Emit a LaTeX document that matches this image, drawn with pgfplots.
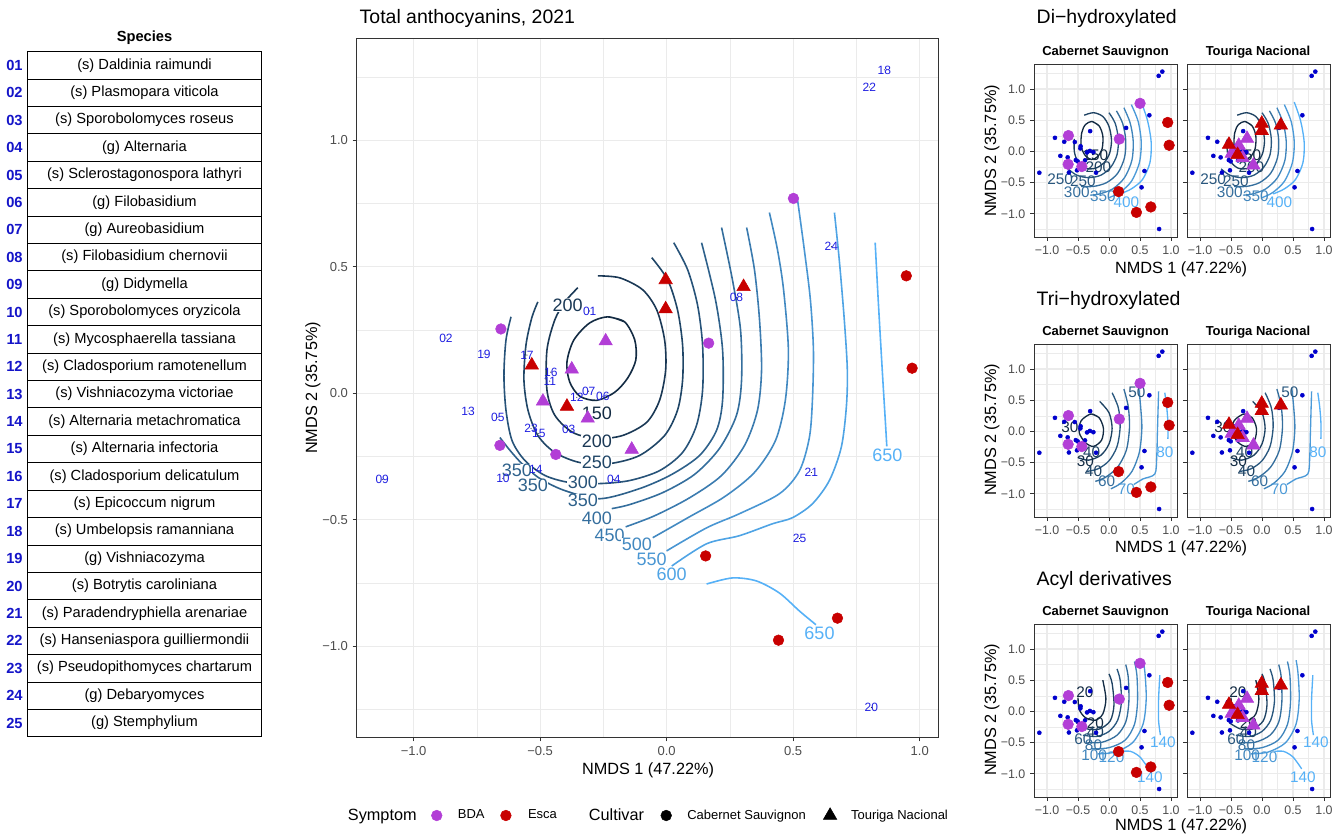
\documentclass[border=0pt]{standalone}
\usepackage{pgfplots}
\usepackage{pgfplotstable}
\pgfplotsset{compat=1.18}
\usepackage{fontspec}
\setmainfont{Liberation Sans}

\definecolor{gray20}{RGB}{51,51,51}
\definecolor{gray30}{RGB}{77,77,77}
\definecolor{gray92}{RGB}{235,235,235}
\definecolor{bda}{RGB}{178,62,214}
\definecolor{esca}{RGB}{200,0,0}
\definecolor{spc}{RGB}{30,30,225}
\definecolor{dotc}{RGB}{0,0,205}
\definecolor{numc}{RGB}{20,20,200}
\definecolor{lo}{RGB}{19,43,67}
\definecolor{hi}{RGB}{86,177,247}
\colorlet{m150}{lo}
\colorlet{m200}{hi!10!lo}
\colorlet{m250}{hi!20!lo}
\colorlet{m300}{hi!30!lo}
\colorlet{m350}{hi!40!lo}
\colorlet{m400}{hi!50!lo}
\colorlet{m450}{hi!60!lo}
\colorlet{m500}{hi!70!lo}
\colorlet{m550}{hi!80!lo}
\colorlet{m600}{hi!90!lo}
\colorlet{m650}{hi}
\colorlet{s1}{lo}
\colorlet{s2}{hi!17!lo}
\colorlet{s3}{hi!33!lo}
\colorlet{s4}{hi!50!lo}
\colorlet{s5}{hi!67!lo}
\colorlet{s6}{hi!83!lo}
\colorlet{s7}{hi}

\tikzset{
  lbl/.style={font=\fontsize{13.5}{15}\selectfont, inner sep=0.3pt, fill=white},
  slbl/.style={font=\fontsize{11.5}{13}\selectfont, inner sep=0pt},
}

\pgfplotsset{
  gg/.style={
    scale only axis, anchor=south west,
    tick pos=left, tick align=outside,
    major tick length=3pt, minor tick length=0pt,
    tick style={gray20, line width=0.7pt},
    axis line style={gray20, line width=0.7pt},
    grid=both,
    major grid style={gray92, line width=0.9pt},
    minor grid style={gray92, line width=0.45pt},
    xtick={-1,-0.5,0,0.5,1}, ytick={-1,-0.5,0,0.5,1},
    minor xtick={-0.75,-0.25,0.25,0.75},
    minor ytick={-1.25,-0.75,-0.25,0.25,0.75,1.25},
    xticklabels={−1.0,−0.5,0.0,0.5,1.0},
    yticklabels={−1.0,−0.5,0.0,0.5,1.0},
    tick label style={font=\fontsize{9.75}{11}\selectfont, text=gray30},
  },
  sm/.style={gg, width=107.25pt, height=129.75pt,
    xmin=-1.21, xmax=1.097, ymin=-1.37, ymax=1.40,
    tick label style={font=\fontsize{9.3}{11}\selectfont, text=gray30}},
  smR/.style={sm, yticklabels={}},
  ctr/.style={smooth, mark=none, line width=1.2pt, forget plot},
  sctr/.style={smooth, mark=none, line width=1pt, forget plot},
  circ/.style={only marks, mark=*, mark size=4pt, forget plot},
  tri/.style={only marks, mark=triangle*, mark size=5.8pt, forget plot},
  sdot/.style={only marks, mark=*, mark size=1.5pt, color=dotc, forget plot},
}

\pgfplotstableread{
x y lab
-0.304 0.325 01
-0.872 0.218 02
-0.387 -0.143 03
-0.209 -0.341 04
-0.667 -0.095 05
-0.252 -0.012 06
-0.308 0.008 07
0.276 0.377 08
-1.124 -0.341 09
-0.647 -0.337 10
-0.462 0.048 11
-0.355 -0.016 12
-0.785 -0.071 13
-0.517 -0.302 14
-0.505 -0.159 15
-0.458 0.083 16
-0.552 0.151 17
0.860 1.278 18
-0.722 0.155 19
0.809 -1.242 20
0.572 -0.313 21
0.801 1.210 22
-0.536 -0.139 23
0.651 0.579 24
0.525 -0.575 25
}\species

\pgfplotstableread{
x y
-0.655 0.254
-0.659 -0.206
-0.438 -0.242
0.166 0.198
0.501 0.770
}\cabBDA
\pgfplotstableread{
x y
0.947 0.464
0.970 0.099
0.154 -0.643
0.442 -0.976
0.675 -0.889
}\cabEsca
\pgfplotstableread{
x y
-0.241 0.206
-0.375 0.095
-0.489 -0.032
-0.312 -0.099
-0.138 -0.222
}\touBDA
\pgfplotstableread{
x y
-0.533 0.111
-0.394 -0.052
-0.004 0.448
-0.004 0.333
0.304 0.421
}\touEsca

\newcommand{\DiContours}{%
\addplot[sctr, color=s1] coordinates {(-0.275,0.48) (-0.16,0.41) (-0.10,0.25) (-0.11,0.05) (-0.18,-0.08) (-0.28,-0.13) (-0.38,-0.07) (-0.45,0.08) (-0.44,0.30) (-0.38,0.43) (-0.275,0.48) (-0.16,0.41)};
\addplot[sctr, color=s2] coordinates {(-0.40,0.58) (-0.25,0.62) (-0.10,0.56) (0.00,0.40) (0.04,0.18) (0.01,-0.03) (-0.08,-0.18) (-0.22,-0.27) (-0.38,-0.27) (-0.50,-0.17) (-0.56,0.00) (-0.56,0.20)};
\addplot[sctr, color=s3] coordinates {(0.00,0.62) (0.10,0.45) (0.15,0.20) (0.13,-0.05) (0.03,-0.25) (-0.13,-0.38) (-0.33,-0.42) (-0.52,-0.38) (-0.66,-0.28)};
\addplot[sctr, color=s4] coordinates {(0.12,0.65) (0.22,0.45) (0.27,0.18) (0.25,-0.10) (0.14,-0.35) (-0.04,-0.50) (-0.25,-0.56) (-0.45,-0.56)};
\addplot[sctr, color=s5] coordinates {(0.24,0.70) (0.34,0.46) (0.39,0.17) (0.37,-0.14) (0.25,-0.42) (0.06,-0.60) (-0.15,-0.68) (-0.30,-0.70)};
\addplot[sctr, color=s6] coordinates {(0.36,0.75) (0.47,0.48) (0.52,0.15) (0.49,-0.18) (0.36,-0.48) (0.17,-0.66) (0.00,-0.74)};
\addplot[sctr, color=s7] coordinates {(0.52,0.79) (0.62,0.50) (0.68,0.15) (0.66,-0.18) (0.54,-0.45) (0.36,-0.60) (0.18,-0.68)};
\node[slbl, text=s1] at (axis cs:-0.22,-0.06) {150};
\node[slbl, text=s2] at (axis cs:-0.17,-0.25) {200};
\node[slbl, text=s3] at (axis cs:-0.79,-0.45) {250};
\node[slbl, text=s3] at (axis cs:-0.42,-0.48) {250};
\node[slbl, text=s4] at (axis cs:-0.52,-0.66) {300};
\node[slbl, text=s5] at (axis cs:-0.10,-0.72) {350};
\node[slbl, text=s7] at (axis cs:0.28,-0.82) {400};
}

\newcommand{\TriContours}{%
\addplot[sctr, color=s1] coordinates {(-0.29,0.28) (-0.16,0.22) (-0.09,0.05) (-0.12,-0.14) (-0.25,-0.24) (-0.38,-0.18) (-0.48,-0.02) (-0.45,0.17) (-0.29,0.28) (-0.16,0.22)};
\addplot[sctr, color=s2] coordinates {(-0.15,0.48) (0.00,0.30) (0.05,0.05) (0.00,-0.20) (-0.13,-0.38) (-0.33,-0.46) (-0.50,-0.42)};
\addplot[sctr, color=s3] coordinates {(0.05,0.62) (0.15,0.38) (0.18,0.08) (0.13,-0.24) (0.00,-0.47) (-0.18,-0.60) (-0.36,-0.64)};
\addplot[sctr, color=s4] coordinates {(0.24,0.68) (0.31,0.40) (0.33,0.06) (0.28,-0.30) (0.14,-0.57) (-0.05,-0.73) (-0.22,-0.80)};
\addplot[sctr, color=s5] coordinates {(0.48,0.70) (0.51,0.40) (0.53,0.05) (0.49,-0.33) (0.37,-0.64) (0.19,-0.83) (0.03,-0.92)};
\addplot[sctr, color=s6] coordinates {(0.80,0.64) (0.79,0.30) (0.78,-0.05) (0.77,-0.40) (0.74,-0.68) (0.55,-0.76) (0.40,-0.85)};
\addplot[sctr, color=s7] coordinates {(0.90,0.62) (0.93,0.40) (0.95,0.15) (0.95,-0.12)};
\node[slbl, text=s1] at (axis cs:-0.63,0.07) {30};
\node[slbl, text=s3] at (axis cs:0.45,0.62) {50};
\node[slbl, text=s2] at (axis cs:-0.28,-0.33) {40};
\node[slbl, text=s1] at (axis cs:-0.38,-0.48) {30};
\node[slbl, text=s2] at (axis cs:-0.25,-0.63) {40};
\node[slbl, text=s4] at (axis cs:-0.04,-0.80) {60};
\node[slbl, text=s6] at (axis cs:0.28,-0.93) {70};
\node[slbl, text=s7] at (axis cs:0.90,-0.33) {80};
}

\newcommand{\AcylContours}{%
\addplot[sctr, color=s1] coordinates {(-0.50,0.22) (-0.48,0.03) (-0.38,-0.10) (-0.22,-0.14) (-0.10,-0.04) (-0.05,0.20) (-0.10,0.50)};
\addplot[sctr, color=s2] coordinates {(-0.53,-0.18) (-0.35,-0.28) (-0.15,-0.28) (0.02,-0.15) (0.08,0.10) (0.05,0.45) (0.00,0.60)};
\addplot[sctr, color=s3] coordinates {(-0.42,-0.38) (-0.20,-0.40) (0.00,-0.32) (0.14,-0.14) (0.20,0.15) (0.18,0.50) (0.13,0.68)};
\addplot[sctr, color=s4] coordinates {(-0.35,-0.50) (-0.10,-0.49) (0.13,-0.38) (0.27,-0.17) (0.32,0.15) (0.31,0.55) (0.27,0.75)};
\addplot[sctr, color=s5] coordinates {(-0.28,-0.60) (0.00,-0.58) (0.26,-0.46) (0.41,-0.21) (0.46,0.15) (0.45,0.58) (0.41,0.80)};
\addplot[sctr, color=s6] coordinates {(-0.18,-0.68) (0.10,-0.65) (0.38,-0.50) (0.55,-0.20) (0.60,0.20) (0.58,0.62) (0.55,0.82)};
\addplot[sctr, color=s7] coordinates {(0.82,0.58) (0.80,0.20) (0.80,-0.15) (0.83,-0.38)};
\addplot[sctr, color=s7] coordinates {(0.20,-0.64) (0.35,-0.64) (0.50,-0.73) (0.64,-0.92)};
\node[slbl, text=s1] at (axis cs:-0.39,0.30) {20};
\node[slbl, text=s1] at (axis cs:-0.22,-0.19) {20};
\node[slbl, text=s2] at (axis cs:-0.22,-0.34) {40};
\node[slbl, text=s3] at (axis cs:-0.42,-0.44) {60};
\node[slbl, text=s4] at (axis cs:-0.25,-0.54) {80};
\node[slbl, text=s5] at (axis cs:-0.24,-0.70) {100};
\node[slbl, text=s6] at (axis cs:0.04,-0.74) {120};
\node[slbl, text=s7] at (axis cs:0.87,-0.49) {140};
\node[slbl, text=s7] at (axis cs:0.66,-1.06) {140};
}

\newcommand{\CabPoints}{%
\addplot[sdot] table[x=x,y=y] {\species};
\addplot[circ, color=bda] table {\cabBDA};
\addplot[circ, color=esca] table {\cabEsca};
}
\newcommand{\TouPoints}{%
\addplot[sdot] table[x=x,y=y] {\species};
\addplot[tri, color=bda] table {\touBDA};
\addplot[tri, color=esca] table {\touEsca};
}

\begin{document}
\begin{tikzpicture}
\useasboundingbox (0pt,0pt) rectangle (1007.25pt,-625.5pt);

\begin{scope}[x=0.75pt,y=-0.75pt]
  \node[font=\bfseries\fontsize{11}{13}\selectfont] at (144.5,38) {Species};
  \foreach \num/\name [count=\k] in {
    01/{(s) Daldinia raimundi},
    02/{(s) Plasmopara viticola},
    03/{(s) Sporobolomyces roseus},
    04/{(g) Alternaria},
    05/{(s) Sclerostagonospora lathyri},
    06/{(g) Filobasidium},
    07/{(g) Aureobasidium},
    08/{(s) Filobasidium chernovii},
    09/{(g) Didymella},
    10/{(s) Sporobolomyces oryzicola},
    11/{(s) Mycosphaerella tassiana},
    12/{(s) Cladosporium ramotenellum},
    13/{(s) Vishniacozyma victoriae},
    14/{(s) Alternaria metachromatica},
    15/{(s) Alternaria infectoria},
    16/{(s) Cladosporium delicatulum},
    17/{(s) Epicoccum nigrum},
    18/{(s) Umbelopsis ramanniana},
    19/{(g) Vishniacozyma},
    20/{(s) Botrytis caroliniana},
    21/{(s) Paradendryphiella arenariae},
    22/{(s) Hanseniaspora guilliermondii},
    23/{(s) Pseudopithomyces chartarum},
    24/{(g) Debaryomyces},
    25/{(g) Stemphylium}} {
    \draw[line width=0.6pt] (27.7,{51.7+(\k-1)*27.4}) rectangle (261,{51.7+\k*27.4});
    \node[font=\fontsize{11}{13}\selectfont] at (144.5,{51.7+(\k-0.5)*27.4}) {\name};
    \node[font=\bfseries\fontsize{11}{13}\selectfont, text=numc] at (14.5,{51.7+(\k-0.5)*27.4}) {\num};
  }
  \node[anchor=west, font=\fontsize{14.6}{17}\selectfont] at (355,18) {Total anthocyanins, 2021};
  \node[anchor=west, font=\fontsize{14.6}{17}\selectfont] at (1032,18) {Di−hydroxylated};
  \node[anchor=west, font=\fontsize{14.6}{17}\selectfont] at (1032,300) {Tri−hydroxylated};
  \node[anchor=west, font=\fontsize{14.6}{17}\selectfont] at (1032,580) {Acyl derivatives};
  \node[font=\fontsize{12.2}{14}\selectfont] at (648,770) {NMDS 1 (47.22\%)};
  \node[font=\fontsize{12.2}{14}\selectfont, rotate=90] at (313,388) {NMDS 2 (35.75\%)};
  \foreach \yy in {52,332,612} {
    \node[font=\bfseries\fontsize{9.75}{11}\selectfont] at (1105.5,\yy) {Cabernet Sauvignon};
    \node[font=\bfseries\fontsize{9.75}{11}\selectfont] at (1258,\yy) {Touriga Nacional};
  }
  \foreach \yy in {269,548,826} {
    \node[font=\fontsize{12.2}{14}\selectfont] at (1181,\yy) {NMDS 1 (47.22\%)};
  }
  \foreach \yy in {151,430,710} {
    \node[font=\fontsize{12.2}{14}\selectfont, rotate=90] at (992,\yy) {NMDS 2 (35.75\%)};
  }
\end{scope}

\begin{axis}[gg, at={(267.5pt,-553pt)}, width=436.7pt, height=524.5pt,
  xmin=-1.225, xmax=1.076, ymin=-1.36, ymax=1.404,
  legend columns=-1, legend cell align=left,
  legend style={at={(-0.015,-0.111)}, anchor=west, draw=none, fill=none,
    inner sep=0pt, outer sep=0pt, column sep=0pt,
    nodes={inner sep=0pt, outer sep=0pt},
    font=\fontsize{9.75}{11}\selectfont}]
\addlegendimage{empty legend}
\addlegendentry{\fontsize{12.2}{14}\selectfont Symptom\hspace*{10.9pt}}
\addlegendimage{legend image code/.code={\fill[bda] (0pt,0pt) circle (4pt);}}
\addlegendentry{\hspace*{11.6pt}BDA\hspace*{11.8pt}}
\addlegendimage{legend image code/.code={\fill[esca] (0pt,0pt) circle (4pt);}}
\addlegendentry{\hspace*{12.4pt}Esca\hspace*{24pt}}
\addlegendimage{empty legend}
\addlegendentry{\fontsize{12.2}{14}\selectfont Cultivar\hspace*{12.4pt}}
\addlegendimage{legend image code/.code={\fill[black] (0pt,0pt) circle (4pt);}}
\addlegendentry{\hspace*{11.6pt}Cabernet Sauvignon\hspace*{13pt}}
\addlegendimage{legend image code/.code={\fill[black] (90:5.8pt) -- (210:5.8pt) -- (330:5.8pt) -- cycle;}}
\addlegendentry{\hspace*{10.5pt}Touriga Nacional}

\addplot[ctr, color=m150] coordinates {(-0.233,0.302) (-0.166,0.282) (-0.126,0.210) (-0.122,0.131) (-0.154,0.060) (-0.205,0.004) (-0.276,-0.028) (-0.343,-0.012) (-0.383,0.044) (-0.394,0.123) (-0.367,0.210) (-0.304,0.278) (-0.233,0.302) (-0.166,0.282)};
\addplot[ctr, color=m200] coordinates {(-0.272,0.464) (-0.185,0.456) (-0.095,0.409) (-0.039,0.329) (-0.008,0.210) (-0.004,0.091) (-0.028,-0.028) (-0.079,-0.115) (-0.174,-0.167) (-0.276,-0.179) (-0.371,-0.155) (-0.442,-0.087) (-0.473,0.012) (-0.473,0.171) (-0.442,0.290) (-0.402,0.361) (-0.351,0.417)};
\addplot[ctr, color=m250] coordinates {(-0.059,0.536) (0.004,0.448) (0.043,0.329) (0.063,0.190) (0.063,0.052) (0.043,-0.067) (-0.008,-0.167) (-0.107,-0.246) (-0.225,-0.278) (-0.343,-0.274) (-0.442,-0.234) (-0.509,-0.167) (-0.548,-0.067) (-0.564,0.052) (-0.556,0.190) (-0.533,0.298) (-0.509,0.361)};
\addplot[ctr, color=m300] coordinates {(0.028,0.595) (0.083,0.488) (0.122,0.349) (0.142,0.190) (0.142,0.012) (0.118,-0.127) (0.063,-0.234) (-0.028,-0.306) (-0.146,-0.345) (-0.264,-0.357) (-0.383,-0.353) (-0.481,-0.325) (-0.560,-0.266) (-0.611,-0.187) (-0.635,-0.067) (-0.643,0.071) (-0.635,0.210) (-0.615,0.302)};
\addplot[ctr, color=m350] coordinates {(-0.659,-0.175) (-0.619,-0.226) (-0.572,-0.278) (-0.501,-0.337) (-0.402,-0.385) (-0.264,-0.417) (-0.107,-0.377) (0.020,-0.321) (0.130,-0.246) (0.197,-0.147) (0.221,-0.028) (0.221,0.171) (0.193,0.369) (0.138,0.595)};
\addplot[ctr, color=m400] coordinates {(-0.217,-0.456) (-0.146,-0.440) (-0.016,-0.393) (0.110,-0.321) (0.209,-0.218) (0.276,-0.087) (0.296,0.052) (0.292,0.250) (0.260,0.448) (0.217,0.655)};
\addplot[ctr, color=m450] coordinates {(-0.162,-0.528) (-0.047,-0.484) (0.091,-0.413) (0.217,-0.325) (0.308,-0.206) (0.359,-0.067) (0.375,0.091) (0.367,0.290) (0.347,0.488) (0.316,0.655)};
\addplot[ctr, color=m500] coordinates {(-0.055,-0.571) (0.091,-0.488) (0.229,-0.409) (0.347,-0.313) (0.430,-0.187) (0.469,-0.028) (0.481,0.171) (0.462,0.409) (0.438,0.567) (0.406,0.714)};
\addplot[ctr, color=m550] coordinates {(0.000,-0.623) (0.158,-0.532) (0.288,-0.476) (0.446,-0.397) (0.525,-0.306) (0.564,-0.175) (0.576,-0.028) (0.580,0.171) (0.568,0.369) (0.544,0.567) (0.517,0.766)};
\addplot[ctr, color=m600] coordinates {(0.020,-0.683) (0.158,-0.595) (0.288,-0.563) (0.418,-0.516) (0.497,-0.492) (0.576,-0.437) (0.643,-0.345) (0.690,-0.214) (0.710,-0.056) (0.714,0.091) (0.702,0.290) (0.682,0.528) (0.663,0.714)};
\addplot[ctr, color=m650] coordinates {(0.824,0.595) (0.836,0.369) (0.852,0.091) (0.864,-0.107) (0.870,-0.210)};
\addplot[ctr, color=m650] coordinates {(0.158,-0.754) (0.260,-0.730) (0.355,-0.742) (0.446,-0.790) (0.525,-0.861) (0.590,-0.915)};

\node[lbl, text=m200] at (axis cs:-0.391,0.349) {200};
\node[lbl, text=m150] at (axis cs:-0.276,-0.079) {150};
\node[lbl, text=m200] at (axis cs:-0.276,-0.190) {200};
\node[lbl, text=m250] at (axis cs:-0.276,-0.274) {250};
\node[lbl, text=m350] at (axis cs:-0.592,-0.306) {350};
\node[lbl, text=m350] at (axis cs:-0.529,-0.365) {350};
\node[lbl, text=m300] at (axis cs:-0.331,-0.353) {300};
\node[lbl, text=m350] at (axis cs:-0.331,-0.425) {350};
\node[lbl, text=m400] at (axis cs:-0.276,-0.496) {400};
\node[lbl, text=m450] at (axis cs:-0.225,-0.563) {450};
\node[lbl, text=m500] at (axis cs:-0.118,-0.599) {500};
\node[lbl, text=m550] at (axis cs:-0.059,-0.655) {550};
\node[lbl, text=m600] at (axis cs:0.020,-0.714) {600};
\node[lbl, text=m650] at (axis cs:0.872,-0.246) {650};
\node[lbl, text=m650] at (axis cs:0.604,-0.948) {650};

\addplot[only marks, mark=*, mark size=0.1pt, mark options={draw=none, fill=none}, forget plot,
  point meta=explicit symbolic, nodes near coords={\pgfplotspointmeta},
  nodes near coords style={anchor=center, font=\fontsize{9}{10}\selectfont, text=spc, inner sep=0pt}]
  table[x=x, y=y, meta=lab] {\species};

\addplot[circ, color=bda] table {\cabBDA};
\addplot[circ, color=esca] table {\cabEsca};
\addplot[tri, color=bda] table {\touBDA};
\addplot[tri, color=esca] table {\touEsca};
\end{axis}

\begin{axis}[sm, at={(775.5pt,-177.75pt)}]
\DiContours
\CabPoints
\end{axis}
\begin{axis}[smR, at={(890.25pt,-177.75pt)}]
\DiContours
\TouPoints
\end{axis}

\begin{axis}[sm, at={(775.5pt,-387.75pt)}]
\TriContours
\CabPoints
\end{axis}
\begin{axis}[smR, at={(890.25pt,-387.75pt)}]
\TriContours
\TouPoints
\end{axis}

\begin{axis}[sm, at={(775.5pt,-597.75pt)}]
\AcylContours
\CabPoints
\end{axis}
\begin{axis}[smR, at={(890.25pt,-597.75pt)}]
\AcylContours
\TouPoints
\end{axis}

\end{tikzpicture}
\end{document}
